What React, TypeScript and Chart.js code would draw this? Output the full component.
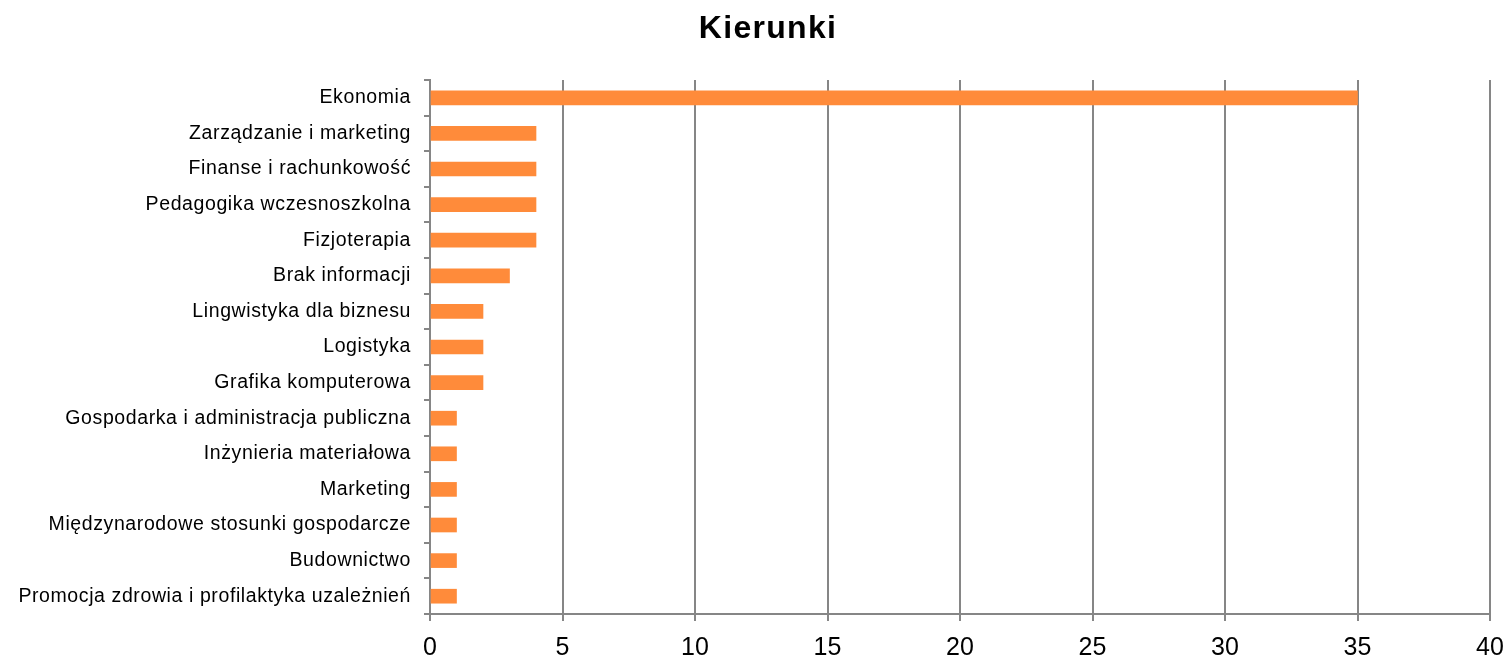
import React, { useEffect, useRef } from "react";
import { Chart, registerables } from "chart.js";

Chart.register(...registerables);

const categories: string[] = [
  "Ekonomia",
  "Zarządzanie i marketing",
  "Finanse i rachunkowość",
  "Pedagogika wczesnoszkolna",
  "Fizjoterapia",
  "Brak informacji",
  "Lingwistyka dla biznesu",
  "Logistyka",
  "Grafika komputerowa",
  "Gospodarka i administracja publiczna",
  "Inżynieria materiałowa",
  "Marketing",
  "Międzynarodowe stosunki gospodarcze",
  "Budownictwo",
  "Promocja zdrowia i profilaktyka uzależnień",
];

const counts: number[] = [35, 4, 4, 4, 4, 3, 2, 2, 2, 1, 1, 1, 1, 1, 1];

const xMin = 0;
const xMax = 40;
const xStep = 5;

const titleText = "Kierunki";

const FONT = "'Liberation Sans', Arial, Helvetica, sans-serif";
const GRID = "#868686";

const spacingPlugin = {
  id: "letterSpacing",
  beforeDraw(chart: any) {
    const ctx = chart.ctx;
    const y = chart.scales.y;
    if (y && !y.__wrapped) {
      const orig = y.drawLabels.bind(y);
      y.drawLabels = (a: any) => {
        ctx.save();
        (ctx as any).letterSpacing = "0.6px";
        orig(a);
        ctx.restore();
      };
      y.__wrapped = true;
    }
    const t = chart.titleBlock;
    if (t && !t.__wrapped) {
      const origT = t.draw.bind(t);
      t.draw = (a: any) => {
        ctx.save();
        (ctx as any).letterSpacing = "1.3px";
        ctx.translate(14, 0);
        origT(a);
        ctx.restore();
      };
      t.__wrapped = true;
    }
  },
};

export default function App() {
  const ref = useRef<HTMLCanvasElement | null>(null);

  useEffect(() => {
    document.body.style.margin = "0";
    if (!ref.current) return;
    const chart = new Chart(ref.current, {
      type: "bar",
      data: {
        labels: categories,
        datasets: [
          {
            data: counts,
            backgroundColor: "#FF8B3A",
            borderWidth: 0,
            barThickness: 14,
          },
        ],
      },
      plugins: [spacingPlugin],
      options: {
        indexAxis: "y",
        responsive: false,
        animation: false,
        layout: { padding: { left: 0, right: 0, top: 0, bottom: 0 } },
        plugins: {
          legend: { display: false },
          tooltip: { enabled: false },
          title: {
            display: true,
            text: titleText,
            color: "#000000",
            font: { family: FONT, size: 32, weight: "bold", lineHeight: 1.2 },
            padding: { top: 10, bottom: 31.6 },
          },
        },
        scales: {
          x: {
            type: "linear",
            min: xMin,
            max: xMax,
            ticks: {
              stepSize: xStep,
              color: "#000000",
              font: { family: FONT, size: 25 },
              padding: 12,
            },
            grid: {
              color: GRID,
              lineWidth: 2,
              tickLength: 7,
              drawTicks: true,
            },
            border: { display: true, color: GRID, width: 2 },
            afterFit: (s: any) => {
              s.height = 45;
              s.paddingRight = 18;
              s.paddingLeft = 0;
            },
          },
          y: {
            type: "category",
            offset: true,
            ticks: {
              color: "#000000",
              font: { family: FONT, size: 19.5 },
              padding: 13,
              autoSkip: false,
            },
            grid: {
              offset: true,
              drawOnChartArea: false,
              color: GRID,
              lineWidth: 2,
              tickLength: 6,
            },
            border: { display: true, color: GRID, width: 2 },
            afterFit: (s: any) => {
              s.width = 430;
            },
          },
        },
      },
    });
    return () => chart.destroy();
  }, []);

  return (
    <div style={{ width: 1508, height: 659 }}>
      <canvas ref={ref} width={1508} height={659} />
    </div>
  );
}
